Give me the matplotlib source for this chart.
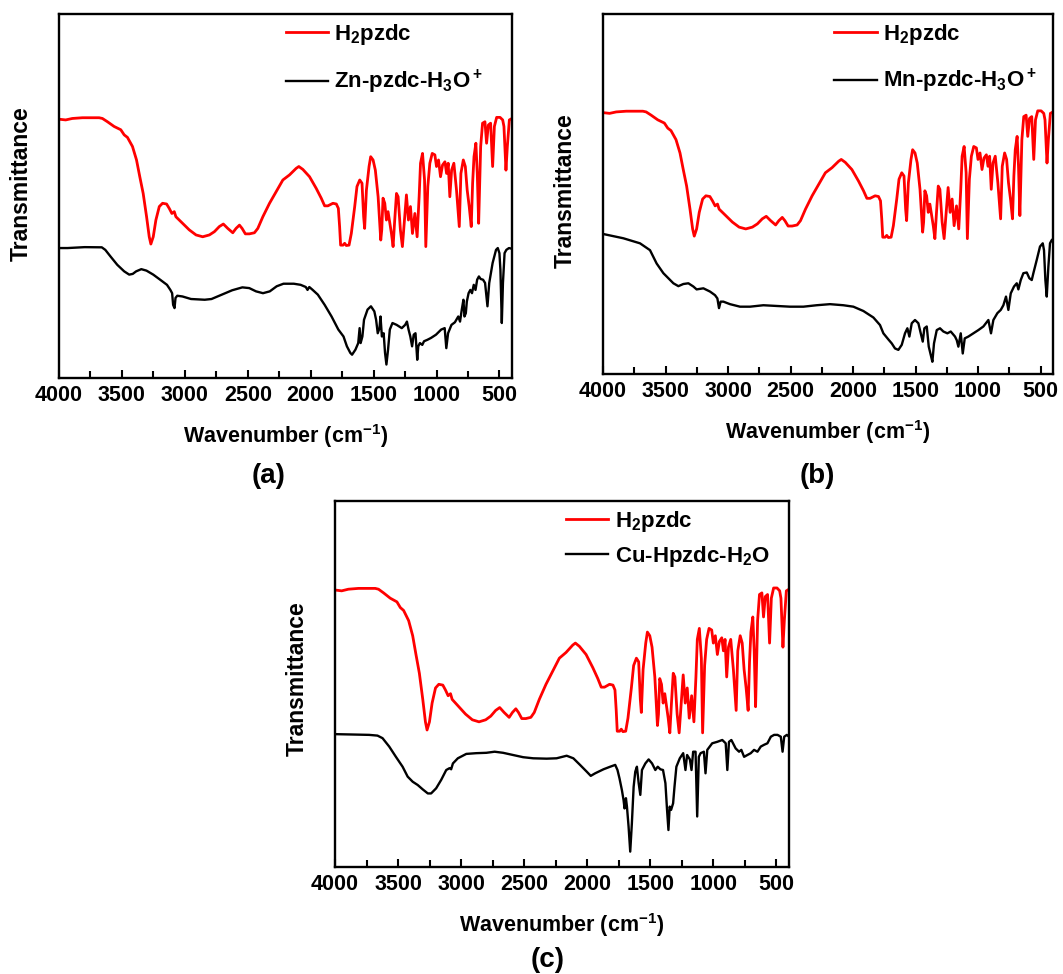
import numpy as np
import matplotlib
matplotlib.use("Agg")
import matplotlib.pyplot as plt
from matplotlib.ticker import MultipleLocator

plt.rcParams['font.family'] = ['Liberation Sans', 'DejaVu Sans']
plt.rcParams['font.weight'] = 'bold'
plt.rcParams['mathtext.fontset'] = 'custom'
plt.rcParams['mathtext.rm'] = 'Liberation Sans:bold'
plt.rcParams['mathtext.it'] = 'Liberation Sans:bold'
plt.rcParams['mathtext.bf'] = 'Liberation Sans:bold'
plt.rcParams['mathtext.default'] = 'bf'

# ---------------- data (wavenumber cm-1, transmittance a.u.) ----------------
h2pzdc = [(4000,71.1),(3947,70.9),(3894,71.3),(3814,71.5),(3681,71.5),(3655,71.3),(3615,70.4),(3562,69.1),
          (3509,68.2),(3482,66.8),(3456,66.1),(3416,63.6),(3384,59.9),(3358,55.3),(3331,50.7),(3304,44.3),
          (3283,38.8),(3270,36.8),(3251,38.8),(3230,43.4),(3203,47.1),(3177,48.0),(3145,47.8),(3124,46.6),
          (3103,45.2),(3084,45.7),(3071,44.3),(3018,42.5),(2965,40.7),(2911,39.3),(2858,38.8),(2805,39.3),
          (2765,40.2),(2726,41.6),(2694,42.3),(2659,41.1),(2619,39.9),(2593,41.1),(2566,42.0),(2545,41.1),
          (2519,39.6),(2487,39.6),(2447,39.9),(2420,41.1),(2380,44.3),(2327,48.0),(2274,51.2),(2221,54.4),
          (2168,55.8),(2115,57.6),(2094,58.1),(2062,57.3),(2009,55.3),(1956,52.1),(1916,49.4),(1889,47.3),
          (1863,47.3),(1823,48.0),(1796,47.8),(1780,46.6),(1770,41.6),(1762,36.5),(1743,36.5),(1730,37.0),
          (1717,36.4),(1695,36.5),(1677,39.7),(1650,47.1),(1632,52.6),(1610,54.4),(1592,53.5),(1579,44.3),
          (1571,41.1),(1557,51.6),(1536,58.1),(1523,60.8),(1504,59.9),(1486,57.1),(1464,49.8),(1443,37.9),
          (1435,40.7),(1425,49.4),(1411,48.0),(1398,43.4),(1385,45.7),(1371,42.5),(1358,39.7),(1345,36.1),
          (1332,43.4),(1318,50.7),(1305,49.8),(1287,40.7),(1271,36.1),(1255,43.4),(1239,50.3),(1223,43.4),
          (1207,47.1),(1191,39.7),(1172,45.2),(1154,38.8),(1138,49.8),(1127,59.0),(1111,61.7),(1095,54.4),
          (1085,36.1),(1069,52.6),(1053,59.0),(1034,61.7),(1013,61.3),(1000,58.1),(984,59.9),(968,55.3),
          (952,58.5),(933,59.4),(920,56.2),(907,59.0),(894,49.8),(880,57.1),(862,59.0),(841,51.6),
          (819,41.6),(806,56.2),(787,59.9),(771,58.1),(756,51.6),(740,47.1),(724,41.6),(713,53.5),
          (702,60.8),(687,64.5),(676,56.2),(665,42.5),(649,63.6),(634,70.0),(615,70.4),(602,64.5),
          (588,69.5),(570,70.0),(554,58.1),(540,69.1),(522,71.6),(495,71.6),(474,70.9),(464,69.1),
          (448,57.1),(437,63.6),(421,70.9),(400,71.3)]

zn_pzdc = [(4000,35.7),(3932,35.7),(3796,35.95),(3660,35.9),(3632,35.2),(3591,33.4),(3537,31.1),(3482,29.3),
           (3442,28.4),(3414,28.6),(3387,29.3),(3346,29.9),(3305,29.5),(3251,28.4),(3196,27.0),(3142,25.6),
           (3115,24.2),(3101,23.3),(3093,20.1),(3082,19.2),(3074,22.0),(3060,22.6),(3019,22.4),(2951,21.7),
           (2842,21.5),(2788,21.7),(2706,22.9),(2624,24.1),(2543,24.9),(2488,24.7),(2434,23.8),(2379,23.3),
           (2325,23.8),(2270,25.2),(2216,25.9),(2134,25.9),(2080,25.6),(2039,25.0),(2025,24.2),(2011,25.0),
           (1984,24.2),(1943,22.9),(1889,20.1),(1834,16.9),(1780,13.3),(1739,11.4),(1712,8.7),(1685,6.9),
           (1671,6.4),(1644,7.8),(1622,9.6),(1611,13.7),(1603,9.6),(1589,11.4),(1576,16.0),(1548,18.8),
           (1521,19.7),(1494,18.3),(1480,16.0),(1467,12.3),(1453,13.7),(1445,16.9),(1434,11.4),(1420,12.3),
           (1409,6.9),(1398,3.7),(1385,7.8),(1371,13.3),(1350,15.1),(1317,14.6),(1276,13.7),(1249,14.6),
           (1235,15.5),(1222,13.3),(1208,11.4),(1194,8.7),(1181,11.9),(1167,12.3),(1153,5.0),(1145,8.7),
           (1132,9.6),(1113,9.1),(1099,10.1),(1072,10.5),(1044,11.0),(1004,11.9),(963,13.3),(935,13.7),
           (922,8.2),(908,12.3),(881,14.6),(854,15.3),(827,16.9),(813,15.5),(799,18.8),(786,21.5),
           (778,16.9),(767,17.8),(759,21.0),(745,23.3),(731,24.2),(718,23.3),(704,25.6),(690,24.2),
           (677,27.0),(663,27.9),(649,27.2),(630,27.0),(614,26.1),(595,19.7),(581,26.1),(554,31.6),
           (527,35.2),(513,35.7),(500,34.3),(492,29.7),(481,15.1),(472,26.1),(459,34.3),(445,35.2),
           (424,35.7),(400,35.5)]

mn_pzdc = [(4000,38.9),(3837,37.7),(3704,36.3),(3624,34.4),(3571,30.7),(3517,28.0),(3437,25.2),(3397,24.4),
           (3357,25.0),(3317,25.2),(3277,24.3),(3251,23.5),(3197,23.8),(3144,22.9),(3104,21.9),(3085,21.0),
           (3072,18.3),(3059,20.1),(3037,20.1),(2984,19.4),(2904,18.7),(2824,18.7),(2717,19.1),(2611,18.9),
           (2504,18.7),(2397,18.7),(2291,19.1),(2184,19.4),(2077,19.1),(1997,18.7),(1917,17.5),(1837,15.7),
           (1784,13.6),(1757,11.3),(1717,9.6),(1690,8.5),(1664,7.1),(1637,6.7),(1610,8.1),(1584,11.3),
           (1565,12.7),(1549,10.4),(1530,14.1),(1504,15.0),(1477,14.1),(1458,11.3),(1442,9.0),(1429,12.7),
           (1410,13.2),(1394,7.6),(1378,5.3),(1365,3.4),(1352,8.5),(1330,12.2),(1304,12.7),(1277,11.8),
           (1245,11.3),(1218,11.8),(1184,10.4),(1170,9.4),(1157,7.6),(1138,11.3),(1122,5.7),(1106,9.9),
           (1077,10.4),(1037,11.3),(997,12.2),(957,13.2),(917,15.0),(896,11.3),(877,15.0),(845,16.9),
           (818,17.8),(797,19.1),(776,21.5),(757,17.8),(738,22.4),(712,24.3),(690,25.2),(677,23.5),
           (658,26.1),(637,28.0),(610,28.2),(589,26.6),(570,26.1),(557,28.0),(530,31.7),(504,35.4),
           (482,36.3),(472,34.4),(461,26.1),(450,21.5),(437,29.8),(424,36.3),(410,37.2),(400,37.5)]

cu_hpzdc = [(4000,36.3),(3862,36.2),(3729,36.1),(3663,35.9),(3623,35.2),(3570,32.9),(3517,30.1),(3464,27.4),
            (3424,24.7),(3384,23.3),(3344,22.4),(3304,21.2),(3264,20.1),(3238,20.1),(3198,21.5),(3158,23.8),
            (3118,26.5),(3092,27.0),(3079,26.7),(3065,28.3),(3026,29.7),(2959,30.9),(2880,31.1),(2800,31.2),
            (2734,31.5),(2667,31.2),(2588,30.6),(2508,30.0),(2428,29.7),(2322,29.6),(2243,29.7),(2163,30.4),
            (2110,29.7),(2057,27.9),(2004,26.05),(1972,24.9),(1937,25.6),(1871,26.7),(1818,27.4),(1778,27.9),
            (1760,26.5),(1744,24.2),(1725,21.0),(1712,18.3),(1704,16.0),(1693,18.8),(1685,16.5),(1672,11.0),
            (1659,4.2),(1646,11.9),(1632,21.9),(1619,26.05),(1606,27.4),(1592,22.9),(1579,19.7),(1566,26.5),
            (1539,28.3),(1513,29.4),(1486,28.3),(1460,26.5),(1441,27.4),(1420,26.7),(1399,26.5),(1380,22.9),
            (1367,15.6),(1356,10.1),(1346,16.5),(1335,15.6),(1319,17.4),(1308,21.9),(1293,27.4),(1266,29.7),
            (1239,31.1),(1221,26.5),(1208,30.6),(1186,29.4),(1173,26.5),(1160,31.5),(1141,31.5),(1128,13.8),
            (1115,30.1),(1101,31.1),(1075,31.5),(1062,25.6),(1048,32.0),(1009,33.8),(969,34.2),(929,34.7),
            (902,33.8),(889,26.5),(876,34.2),(857,34.7),(823,32.4),(796,31.5),(778,32.0),(756,30.1),
            (730,30.6),(703,31.1),(677,32.0),(650,31.5),(624,32.9),(597,33.4),(571,33.8),(544,35.6),
            (518,36.1),(491,36.1),(465,35.6),(451,31.5),(438,35.6),(417,36.1),(400,35.6)]

labels_ref = r'H$_2$pzdc'
labels_cmp = [r'Zn-pzdc-H$_3$O$^+$', r'Mn-pzdc-H$_3$O$^+$', r'Cu-Hpzdc-H$_2$O']
panel_tags = ['(a)', '(b)', '(c)']
xticks = [4000, 3500, 3000, 2500, 2000, 1500, 1000, 500]

# ---------------- layout ----------------
W, H = 1063, 974
fig = plt.figure(figsize=(W / 100, H / 100), dpi=100)

# axes boxes in pixels: left, top, right, bottom
boxes = [(59, 14, 512, 378), (603, 14, 1053, 374), (335, 501, 789, 867)]
# stacking of the reference spectrum in each panel: (scale, offset)
ref_stack = [(1.0, 0.0), (1.0, 1.5), (1.115, -3.6)]
legend_pos = [(0.50, 0.978, 0.95), (0.514, 0.978, 0.9), (0.508, 0.978, 0.45)]
ylab_y = [0.535, 0.51, 0.516]
tag_pos = [(269, 476), (817, 476), (548, 960)]
series = [zn_pzdc, mn_pzdc, cu_hpzdc]

ref = np.array(h2pzdc)
for i, (l, t, r, b) in enumerate(boxes):
    ax = fig.add_axes([l / W, 1 - b / H, (r - l) / W, (b - t) / H])
    sc, off = ref_stack[i]
    ln_r, = ax.plot(ref[:, 0], ref[:, 1] * sc + off, color='#ff0000', lw=2.0)
    s = np.array(series[i])
    ln_k, = ax.plot(s[:, 0], s[:, 1], color='black', lw=1.7)
    ax.set_xlim(4000, 400)
    ax.set_ylim(0, 100)
    ax.set_yticks([])
    ax.xaxis.set_major_locator(MultipleLocator(500))
    ax.xaxis.set_minor_locator(MultipleLocator(250))
    ax.set_xticks(xticks)
    ax.set_xticklabels([str(v) for v in xticks])
    ax.tick_params(axis='x', which='major', direction='in', length=6, width=1.5,
                   labelsize=15.5, pad=5)
    ax.tick_params(axis='x', which='minor', direction='in', length=5, width=1.5)
    for sp in ax.spines.values():
        sp.set_linewidth(1.7)
    ax.set_xlabel(r'Wavenumber (cm$^{-1}$)', fontsize=15.5, fontweight='bold')
    ax.xaxis.label.set_va('center')
    ax.xaxis.set_label_coords(0.5, -58 / (b - t))
    ax.set_ylabel('Transmittance', fontsize=16.5, fontweight='bold')
    ax.yaxis.label.set_va('center')
    ax.yaxis.label.set_ha('center')
    ax.yaxis.set_label_coords(-38 / (r - l), ylab_y[i])
    lx, ly, lsp = legend_pos[i]
    ax.legend([ln_r, ln_k], [labels_ref, labels_cmp[i]], loc='upper left',
              bbox_to_anchor=(lx, ly), frameon=False, fontsize=16,
              handlelength=1.9, handletextpad=0.3, labelspacing=lsp,
              borderpad=0, borderaxespad=0)
    tx, ty = tag_pos[i]
    fig.text(tx / W, 1 - ty / H, panel_tags[i], fontsize=20, fontweight='bold',
             ha='center', va='center')

fig.savefig('out.png', dpi=100)
